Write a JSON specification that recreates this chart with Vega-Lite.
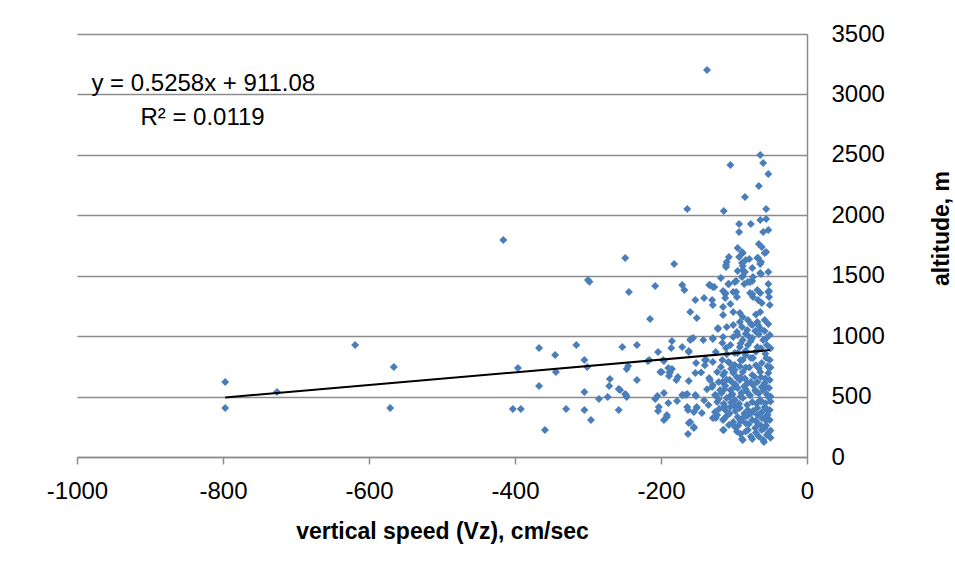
{
"$schema": "https://vega.github.io/schema/vega-lite/v6.json",
"width": 730, "height": 423,
"autosize": {"type": "none"},
"padding": {"left": 77, "top": 34, "right": 148, "bottom": 121},
"background": "white",
"config": {"view": {"stroke": null}, "font": "Liberation Sans"},
"layer": [
{
"data": {"values": [
{"vz":-797,"alt":620},{"vz":-797,"alt":405},{"vz":-726,"alt":538},{"vz":-619,"alt":927},{"vz":-566,"alt":745},{"vz":-571,"alt":405},{"vz":-416,"alt":1795},{"vz":-300,"alt":1465},{"vz":-298,"alt":1450},{"vz":-403,"alt":397},{"vz":-392,"alt":397},{"vz":-396,"alt":736},{"vz":-367,"alt":902},{"vz":-367,"alt":587},{"vz":-359,"alt":223},{"vz":-345,"alt":844},{"vz":-344,"alt":703},{"vz":-330,"alt":397},{"vz":-316,"alt":927},{"vz":-305,"alt":803},{"vz":-301,"alt":745},{"vz":-305,"alt":538},{"vz":-305,"alt":389},{"vz":-296,"alt":306},{"vz":-285,"alt":480},
{"vz":-249,"alt":1647},{"vz":-182,"alt":1597},{"vz":-244,"alt":1365},{"vz":-208,"alt":1415},{"vz":-171,"alt":1423},{"vz":-168,"alt":1382},{"vz":-153,"alt":1299},{"vz":-160,"alt":1200},{"vz":-151,"alt":1150},{"vz":-215,"alt":1142},{"vz":-253,"alt":910},{"vz":-233,"alt":927},{"vz":-185,"alt":960},{"vz":-186,"alt":902},{"vz":-171,"alt":910},{"vz":-159,"alt":976},{"vz":-156,"alt":985},{"vz":-162,"alt":877},{"vz":-204,"alt":869},{"vz":-218,"alt":794},{"vz":-196,"alt":794},{"vz":-152,"alt":778},{"vz":-245,"alt":753},{"vz":-247,"alt":728},{"vz":-199,"alt":703},{"vz":-188,"alt":703},{"vz":-185,"alt":728},{"vz":-189,"alt":670},{"vz":-177,"alt":662},{"vz":-179,"alt":637},{"vz":-153,"alt":695},{"vz":-162,"alt":629},{"vz":-233,"alt":637},{"vz":-270,"alt":645},{"vz":-271,"alt":587},{"vz":-256,"alt":554},{"vz":-249,"alt":521},{"vz":-247,"alt":496},{"vz":-273,"alt":496},{"vz":-258,"alt":389},{"vz":-208,"alt":480},{"vz":-205,"alt":505},{"vz":-196,"alt":530},{"vz":-171,"alt":513},{"vz":-164,"alt":521},{"vz":-153,"alt":513},{"vz":-190,"alt":447},{"vz":-178,"alt":463},{"vz":-203,"alt":414},{"vz":-204,"alt":381},{"vz":-192,"alt":348},{"vz":-196,"alt":306},{"vz":-164,"alt":414},{"vz":-163,"alt":389},{"vz":-155,"alt":372},{"vz":-162,"alt":281},{"vz":-155,"alt":240},{"vz":-163,"alt":190},{"vz":-151,"alt":414},
{"vz":-137,"alt":3202},{"vz":-64,"alt":2499},{"vz":-105,"alt":2416},{"vz":-60,"alt":2433},{"vz":-53,"alt":2342},{"vz":-66,"alt":2242},{"vz":-85,"alt":2151},{"vz":-164,"alt":2052},{"vz":-114,"alt":2035},{"vz":-56,"alt":2052},{"vz":-64,"alt":1961},{"vz":-56,"alt":1969},{"vz":-93,"alt":1928},{"vz":-77,"alt":1928},{"vz":-93,"alt":1862},{"vz":-60,"alt":1862},{"vz":-53,"alt":1878},{"vz":-95,"alt":1729},{"vz":-88,"alt":1688},{"vz":-66,"alt":1762},{"vz":-62,"alt":1738},{"vz":-58,"alt":1688},{"vz":-107,"alt":1655},{"vz":-110,"alt":1613},{"vz":-111,"alt":1589},{"vz":-93,"alt":1655},{"vz":-84,"alt":1630},{"vz":-88,"alt":1580},{"vz":-75,"alt":1564},{"vz":-68,"alt":1647},{"vz":-64,"alt":1597},{"vz":-95,"alt":1539},{"vz":-85,"alt":1531},{"vz":-63,"alt":1514},{"vz":-53,"alt":1531},{"vz":-89,"alt":1489},{"vz":-81,"alt":1448},{"vz":-75,"alt":1456},{"vz":-134,"alt":1423},{"vz":-129,"alt":1407},{"vz":-118,"alt":1481},{"vz":-107,"alt":1431},{"vz":-99,"alt":1448},{"vz":-86,"alt":1431},{"vz":-53,"alt":1431},{"vz":-52,"alt":1374},{"vz":-112,"alt":1357},{"vz":-97,"alt":1365},{"vz":-75,"alt":1349},{"vz":-141,"alt":1316},
{"vz":-89,"alt":1696},{"vz":-56,"alt":1696},{"vz":-79,"alt":1638},{"vz":-67,"alt":1647},{"vz":-63,"alt":1613},{"vz":-111,"alt":1572},{"vz":-89,"alt":1605},{"vz":-88,"alt":1547},{"vz":-64,"alt":1522},{"vz":-88,"alt":1498},{"vz":-74,"alt":1489},{"vz":-133,"alt":1423},{"vz":-127,"alt":1407},{"vz":-108,"alt":1431},{"vz":-97,"alt":1456},{"vz":-78,"alt":1448},{"vz":-115,"alt":1374},{"vz":-112,"alt":1349},{"vz":-101,"alt":1365},{"vz":-96,"alt":1324},{"vz":-68,"alt":1382},{"vz":-64,"alt":1357},{"vz":-53,"alt":1365},{"vz":-78,"alt":1357},{"vz":-130,"alt":1299},{"vz":-112,"alt":1316},{"vz":-129,"alt":1258},{"vz":-115,"alt":1241},{"vz":-105,"alt":1266},{"vz":-74,"alt":1324},{"vz":-67,"alt":1299},{"vz":-62,"alt":1274},{"vz":-52,"alt":1324},{"vz":-51,"alt":1258},{"vz":-115,"alt":1175},{"vz":-101,"alt":1200},{"vz":-92,"alt":1191},{"vz":-88,"alt":1158},{"vz":-64,"alt":1200},{"vz":-92,"alt":1117},{"vz":-81,"alt":1133},{"vz":-68,"alt":1117},{"vz":-58,"alt":1133},{"vz":-101,"alt":1092},{"vz":-89,"alt":1076},{"vz":-75,"alt":1092},{"vz":-67,"alt":1092},{"vz":-53,"alt":1100},{"vz":-122,"alt":1067},{"vz":-110,"alt":1076},{"vz":-96,"alt":1034},{"vz":-82,"alt":1051},{"vz":-71,"alt":1043},{"vz":-58,"alt":1043},{"vz":-142,"alt":968},{"vz":-129,"alt":985},{"vz":-115,"alt":993},{"vz":-101,"alt":993},{"vz":-88,"alt":968},{"vz":-75,"alt":985},{"vz":-60,"alt":968},{"vz":-51,"alt":1009},{"vz":-160,"alt":968},{"vz":-105,"alt":927},{"vz":-92,"alt":910},{"vz":-81,"alt":927},{"vz":-68,"alt":910},{"vz":-55,"alt":927},
{"vz":-140,"alt":803},{"vz":-129,"alt":786},{"vz":-116,"alt":803},{"vz":-108,"alt":786},{"vz":-99,"alt":761},{"vz":-88,"alt":803},{"vz":-74,"alt":819},{"vz":-62,"alt":778},{"vz":-51,"alt":803},{"vz":-123,"alt":703},{"vz":-115,"alt":678},{"vz":-101,"alt":695},{"vz":-88,"alt":703},{"vz":-75,"alt":678},{"vz":-64,"alt":703},{"vz":-53,"alt":695},{"vz":-133,"alt":637},{"vz":-129,"alt":596},{"vz":-116,"alt":621},{"vz":-103,"alt":621},{"vz":-92,"alt":637},{"vz":-81,"alt":612},{"vz":-68,"alt":621},{"vz":-58,"alt":612},{"vz":-51,"alt":637},{"vz":-119,"alt":554},{"vz":-105,"alt":554},{"vz":-95,"alt":571},{"vz":-82,"alt":538},{"vz":-71,"alt":554},{"vz":-60,"alt":554},{"vz":-126,"alt":513},{"vz":-123,"alt":455},{"vz":-110,"alt":488},{"vz":-99,"alt":472},{"vz":-88,"alt":488},{"vz":-75,"alt":455},{"vz":-64,"alt":472},{"vz":-53,"alt":496},{"vz":-151,"alt":405},{"vz":-144,"alt":364},{"vz":-126,"alt":372},{"vz":-112,"alt":389},{"vz":-105,"alt":414},{"vz":-92,"alt":405},{"vz":-81,"alt":389},{"vz":-68,"alt":405},{"vz":-58,"alt":414},{"vz":-51,"alt":389},{"vz":-129,"alt":323},{"vz":-115,"alt":306},{"vz":-101,"alt":290},{"vz":-88,"alt":323},{"vz":-75,"alt":306},{"vz":-62,"alt":323},{"vz":-51,"alt":306},{"vz":-115,"alt":223},{"vz":-81,"alt":223},{"vz":-71,"alt":240},{"vz":-62,"alt":223},{"vz":-53,"alt":199},{"vz":-89,"alt":149},{"vz":-75,"alt":149},{"vz":-60,"alt":141},{"vz":-55,"alt":182},
{"vz":-216,"alt":803},{"vz":-197,"alt":803},{"vz":-162,"alt":869},{"vz":-129,"alt":976},{"vz":-122,"alt":1059},{"vz":-125,"alt":869},{"vz":-116,"alt":943},{"vz":-111,"alt":902},{"vz":-201,"alt":703},{"vz":-190,"alt":736},{"vz":-188,"alt":695},{"vz":-134,"alt":654},{"vz":-138,"alt":803},{"vz":-130,"alt":579},{"vz":-258,"alt":563},{"vz":-248,"alt":513},{"vz":-170,"alt":513},{"vz":-166,"alt":513},{"vz":-152,"alt":505},{"vz":-125,"alt":513},{"vz":-192,"alt":331},{"vz":-160,"alt":290},{"vz":-155,"alt":248},{"vz":-123,"alt":348},{"vz":-125,"alt":323},{"vz":-114,"alt":314},{"vz":-114,"alt":223},{"vz":-88,"alt":141},{"vz":-59,"alt":124},
{"vz":-110,"alt":850},{"vz":-95,"alt":860},{"vz":-84,"alt":845},{"vz":-70,"alt":870},{"vz":-57,"alt":855},{"vz":-118,"alt":745},{"vz":-104,"alt":730},{"vz":-92,"alt":750},{"vz":-79,"alt":740},{"vz":-66,"alt":735},{"vz":-54,"alt":750},{"vz":-110,"alt":640},{"vz":-96,"alt":660},{"vz":-85,"alt":650},{"vz":-72,"alt":665},{"vz":-57,"alt":650},{"vz":-112,"alt":590},{"vz":-98,"alt":600},{"vz":-86,"alt":585},{"vz":-74,"alt":595},{"vz":-62,"alt":580},{"vz":-52,"alt":570},{"vz":-117,"alt":530},{"vz":-102,"alt":520},{"vz":-90,"alt":530},{"vz":-78,"alt":510},{"vz":-66,"alt":525},{"vz":-55,"alt":520},{"vz":-114,"alt":440},{"vz":-104,"alt":450},{"vz":-93,"alt":440},{"vz":-82,"alt":430},{"vz":-69,"alt":440},{"vz":-57,"alt":445},{"vz":-120,"alt":400},{"vz":-98,"alt":380},{"vz":-86,"alt":360},{"vz":-74,"alt":380},{"vz":-62,"alt":370},{"vz":-54,"alt":350},{"vz":-110,"alt":340},{"vz":-95,"alt":330},{"vz":-82,"alt":340},{"vz":-68,"alt":350},{"vz":-56,"alt":335},{"vz":-107,"alt":265},{"vz":-94,"alt":260},{"vz":-80,"alt":270},{"vz":-67,"alt":275},{"vz":-56,"alt":260},{"vz":-96,"alt":210},{"vz":-70,"alt":200},{"vz":-58,"alt":240},{"vz":-80,"alt":1000},{"vz":-66,"alt":1015},{"vz":-95,"alt":1010},{"vz":-140,"alt":760},{"vz":-145,"alt":700},{"vz":-137,"alt":560},{"vz":-141,"alt":470},{"vz":-135,"alt":430},
{"vz":-121,"alt":620},{"vz":-113,"alt":700},{"vz":-106,"alt":780},{"vz":-99,"alt":860},{"vz":-91,"alt":940},{"vz":-84,"alt":1020},{"vz":-77,"alt":1100},{"vz":-70,"alt":1180},{"vz":-63,"alt":1060},{"vz":-56,"alt":980},{"vz":-50,"alt":900},{"vz":-121,"alt":480},{"vz":-113,"alt":560},{"vz":-106,"alt":640},{"vz":-99,"alt":720},{"vz":-91,"alt":800},{"vz":-84,"alt":880},{"vz":-77,"alt":960},{"vz":-70,"alt":1040},{"vz":-63,"alt":900},{"vz":-56,"alt":820},{"vz":-50,"alt":740},{"vz":-113,"alt":420},{"vz":-106,"alt":500},{"vz":-99,"alt":580},{"vz":-91,"alt":660},{"vz":-84,"alt":740},{"vz":-77,"alt":820},{"vz":-70,"alt":760},{"vz":-63,"alt":660},{"vz":-56,"alt":580},{"vz":-50,"alt":500},{"vz":-106,"alt":360},{"vz":-99,"alt":420},{"vz":-91,"alt":500},{"vz":-84,"alt":560},{"vz":-77,"alt":620},{"vz":-70,"alt":540},{"vz":-63,"alt":460},{"vz":-56,"alt":400},{"vz":-50,"alt":460},{"vz":-99,"alt":250},{"vz":-91,"alt":300},{"vz":-84,"alt":280},{"vz":-77,"alt":360},{"vz":-70,"alt":300},{"vz":-63,"alt":260},{"vz":-56,"alt":300},{"vz":-50,"alt":220},{"vz":-91,"alt":190},{"vz":-84,"alt":210},{"vz":-77,"alt":170},{"vz":-66,"alt":170},{"vz":-50,"alt":160}
]},
"mark": {"type": "point", "shape": "diamond", "filled": true, "color": "#4a7ebb", "size": 64, "opacity": 1},
"encoding": {
"x": {"field": "vz", "type": "quantitative", "scale": {"domain": [-1000, 0], "nice": false, "zero": false},
"axis": {"values": [-1000, -800, -600, -400, -200, 0], "labelExpr": "'' + datum.value", "title": "vertical speed (Vz), cm/sec", "grid": false, "domainColor": "#8c8c8c", "domainWidth": 1.5, "tickColor": "#8c8c8c", "tickSize": 7, "tickWidth": 1.5, "labelFontSize": 24, "labelColor": "#000", "labelPadding": 15, "labelFlush": false, "labelOverlap": false, "titleFontSize": 23, "titleFontWeight": "bold", "titleColor": "#000", "titlePadding": 17}},
"y": {"field": "alt", "type": "quantitative", "scale": {"domain": [0, 3500], "nice": false},
"axis": {"orient": "right", "values": [0, 500, 1000, 1500, 2000, 2500, 3000, 3500], "format": "d", "title": "altitude, m", "grid": true, "gridColor": "#8c8c8c", "gridWidth": 1.5, "domainColor": "#8c8c8c", "domainWidth": 1.5, "ticks": false, "tickSize": 0, "labelPadding": 24, "labelFontSize": 24, "labelColor": "#000", "labelFlush": false, "labelOverlap": false, "titleFontSize": 23, "titleFontWeight": "bold", "titleColor": "#000", "titleAngle": 270, "titleX": 134, "titleY": 194, "titleAlign": "center", "titleBaseline": "middle"}}
}
},
{
"data": {"values": [{"vz": -797, "alt": 492.0}, {"vz": -51, "alt": 884.3}]},
"mark": {"type": "line", "color": "#000000", "strokeWidth": 2},
"encoding": {"x": {"field": "vz", "type": "quantitative"}, "y": {"field": "alt", "type": "quantitative"}}
},
{
"data": {"values": [{"vz": -827, "alt": 3030, "t": "y = 0.5258x + 911.08"}, {"vz": -828, "alt": 2745, "t": "R² = 0.0119"}]},
"mark": {"type": "text", "fontSize": 24, "align": "center", "baseline": "alphabetic", "color": "#000"},
"encoding": {"x": {"field": "vz", "type": "quantitative"}, "y": {"field": "alt", "type": "quantitative"}, "text": {"field": "t", "type": "nominal"}}
}
]
}
